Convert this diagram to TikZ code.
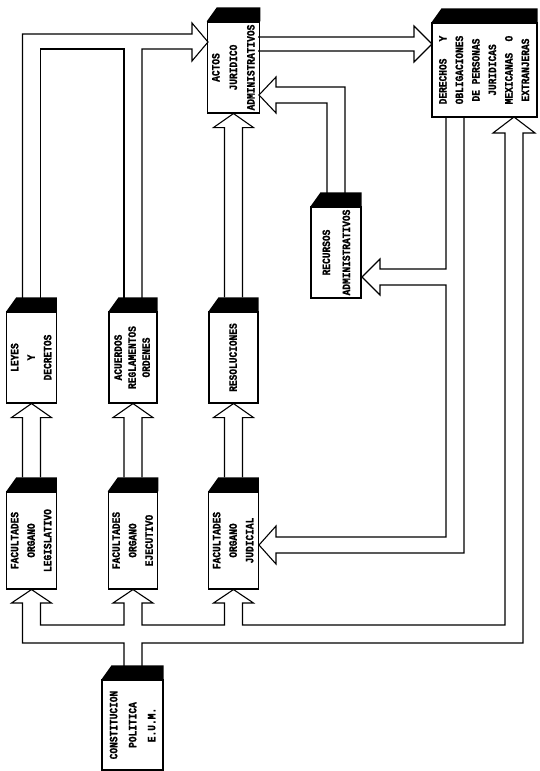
\documentclass[tikz,border=0pt]{standalone}
\usepackage{fontspec}
\usepackage{graphicx}
\usetikzlibrary{calc}
\newfontfamily\typefont{Liberation Mono}[FakeStretch=0.85, BoldFeatures={FakeBold=1.2}]
% rotated box text, optional line spacing
\newcommand{\vtext}[2][16.5pt]{\rotatebox{90}{\fontsize{11.2}{#1}\selectfont\typefont\bfseries\begin{tabular}{@{}c@{}}#2\end{tabular}}}
% hollow block arrow from the top of box #1 up to box #2
\newcommand{\upblock}[2]{%
  \draw[blockarrow] ($(#1.north)+(-9,-14)$) -- ($(#2.south)+(-9,14)$) -- ++(-11,0)
    -- (#2.south) -- ($(#2.south)+(20,14)$) -- ++(-11,0) -- ($(#1.north)+(9,-14)$);}

\begin{document}
\begin{tikzpicture}[
    x=1pt, y=-1pt,
    box/.style={draw, line width=1.1pt, inner sep=0pt, fill=white},
    blockarrow/.style={draw, line width=1.1pt, line join=miter}
  ]
  \useasboundingbox (0,0) rectangle (540,771);

  % Boxes
  \node (actos) [box, minimum width=49pt, minimum height=91pt] at (233.5,67.5) {\vtext[17.5pt]{ACTOS\\JURIDICO\\ADMINISTRATIVOS}};
  \node (derechos) [box, minimum width=105pt, minimum height=94pt] at (484.5,70) {\vtext{DERECHOS\ \ \ Y\\OBLIGACIONES\\DE PERSONAS\\JURIDICAS\\MEXICANAS\ \ O\\EXTRANJERAS}};
  \node (recursos) [box, minimum width=50pt, minimum height=91pt] at (336,252.5) {\vtext[20pt]{RECURSOS\\ADMINISTRATIVOS}};

  \node (leyes) [box, minimum width=47pt, minimum height=91pt] at (31.5,357.5) {\vtext{LEYES\\Y\\DECRETOS}};
  \node (acuerdos) [box, minimum width=48pt, minimum height=91pt] at (133,357.5) {\vtext[14pt]{ACUERDOS\\REGLAMENTOS\\ORDENES}};
  \node (resol) [box, minimum width=49pt, minimum height=91pt] at (233.5,357.5) {\vtext{RESOLUCIONES}};

  \node (legis) [box, minimum width=47pt, minimum height=97pt] at (31.5,540.5) {\vtext{FACULTADES\\ORGANO\\LEGISLATIVO}};
  \node (ejec) [box, minimum width=48pt, minimum height=97pt] at (133,540.5) {\vtext{FACULTADES\\ORGANO\\EJECUTIVO}};
  \node (judic) [box, minimum width=49pt, minimum height=97pt] at (233.5,540.5) {\vtext{FACULTADES\\ORGANO\\JUDICIAL}};

  \node (const) [box, minimum width=61pt, minimum height=90pt] at (132.5,725) {\vtext[19pt]{CONSTITUCION\\POLITICA\\E.U.M.}};

  % black top faces
  \foreach \n in {actos,derechos,recursos,leyes,acuerdos,resol,legis,ejec,judic,const}
    \fill (\n.north west) -- ++(10,-14) -- ($(\n.north east)+(0,-14)$) -- (\n.north east) -- cycle;

  % Arrows
  \upblock{legis}{leyes}
  \upblock{ejec}{acuerdos}
  \upblock{judic}{resol}
  \upblock{resol}{actos}

  % constitucion to the three organs and to derechos
  \draw[blockarrow] (142,666) -- (142,643) -- (523,643) -- (523,133) -- (535,133) -- (514,117)
    -- (493,133) -- (505,133) -- (505,625) -- (242.5,625) -- (242.5,603) -- (253.5,603)
    -- (judic.south) -- (213.5,603) -- (224.5,603) -- (224.5,625) -- (142,625) -- (142,603)
    -- (153,603) -- (ejec.south) -- (113,603) -- (124,603) -- (124,625) -- (40.5,625)
    -- (40.5,603) -- (51.5,603) -- (legis.south) -- (11.5,603) -- (22.5,603) -- (22.5,643)
    -- (124,643) -- (124,666);

  % derechos to recursos and judicial
  \draw[blockarrow] (446,117) -- (446,269) -- (380,269) -- (380,259) -- (362,277) -- (380,295)
    -- (380,285) -- (446,285) -- (446,537) -- (276,537) -- (276,526) -- (259,545) -- (276,564)
    -- (276,553) -- (464,553) -- (464,117);

  % actos to derechos
  \draw[blockarrow] (258,37) -- (414,37) -- (414,26) -- (432,44) -- (414,62) -- (414,51) -- (258,51);

  % recursos to actos
  \draw[blockarrow] (327,193) -- (327,103) -- (276,103) -- (276,113) -- (259,95) -- (276,77)
    -- (276,87) -- (345,87) -- (345,193);

  % leyes and acuerdos to actos
  \draw[blockarrow] (22.5,298) -- (22.5,34) -- (192,34) -- (192,23) -- (208,42) -- (192,61)
    -- (192,49) -- (142,49) -- (142,298);
  \draw[blockarrow] (40.5,298) -- (40.5,49) -- (124,49) -- (124,298);

\end{tikzpicture}
\end{document}
